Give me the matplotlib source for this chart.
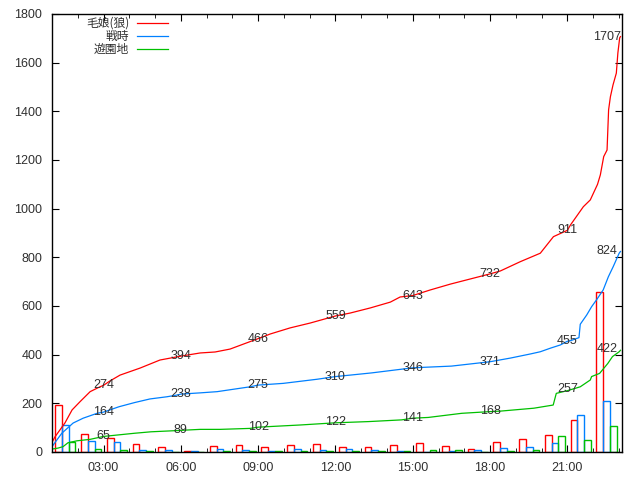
import numpy as np
import matplotlib
matplotlib.use('Agg')
import matplotlib.pyplot as plt
from matplotlib.ticker import MultipleLocator, FuncFormatter

plt.rcParams['font.family'] = ['Liberation Sans', 'Noto Sans CJK JP']

# series names
names = ['毛娘(狼)', '戦時', '遊園地']
colors = ['#ff0000', '#0080ff', '#00c000']

# cumulative counts (time in hours, value)
red_t = [1.0, 1.12, 1.5, 1.78, 2.09, 2.48, 2.86, 3.0, 3.25, 3.64, 4.42, 5.19, 6.0, 6.75, 7.33, 7.91,
         9.0, 9.47, 10.24, 11.02, 12.0, 12.57, 13.35, 14.13, 14.51, 15.0, 15.68, 16.46, 17.23, 18.0,
         18.4, 19.17, 19.95, 20.46, 21.0, 21.12, 21.62, 21.89, 22.17, 22.28, 22.41, 22.54, 22.6,
         22.67, 22.77, 22.9, 22.96, 23.03, 23.06]
red_v = [40, 63, 119, 173, 207, 248, 268, 274, 292, 316, 345, 378, 394, 407, 411, 423,
         466, 485, 510, 530, 559, 571, 592, 616, 637, 643, 666, 690, 711, 732,
         744, 782, 817, 885, 911, 933, 1008, 1036, 1100, 1139, 1214, 1241, 1406,
         1460, 1508, 1557, 1640, 1702, 1707]

blue_t = [1.0, 1.38, 1.82, 2.21, 2.75, 3.0, 3.6, 4.2, 4.8, 5.46, 5.85, 6.0, 6.75, 7.41, 8.69, 9.0,
          9.97, 11.29, 12.0, 12.57, 13.4, 15.0, 16.5, 18.0, 18.79, 19.57, 19.95, 20.35, 20.73, 21.0,
          21.14, 21.45, 21.5, 21.75, 21.94, 22.13, 22.39, 22.59, 22.78, 23.01, 23.06]
blue_v = [22, 77, 119, 139, 159, 164, 186, 203, 218, 227, 234, 238, 243, 248, 268, 275,
          282, 299, 310, 316, 325, 346, 353, 371, 386, 403, 412, 427, 440, 455,
          458, 470, 525, 563, 597, 625, 666, 720, 762, 817, 824]

green_t = [1.0, 1.23, 1.43, 1.62, 1.97, 2.48, 3.0, 4.2, 4.84, 5.85, 6.0, 6.75, 7.52, 8.69, 9.0,
           9.35, 10.63, 12.0, 13.29, 14.57, 15.0, 15.6, 16.9, 18.0, 18.4, 19.7, 20.45, 20.57, 21.0,
           21.5, 21.89, 21.94, 22.25, 22.57, 22.75, 23.01, 23.06]
green_v = [12, 16, 22, 38, 46, 52, 64, 77, 83, 88, 89, 93, 93, 97, 102,
           104, 111, 120, 125, 132, 139, 142, 159, 166, 168, 180, 193, 241, 252,
           268, 296, 310, 323, 364, 392, 412, 418]

# hourly counts
hours = np.arange(1, 23)
red_h = [193, 72, 56, 33, 20, 4, 24, 29, 22, 29, 33, 20, 20, 29, 38, 24, 12, 41, 52, 70, 131, 658]
blue_h = [111, 45, 43, 8, 8, 4, 12, 8, 5, 12, 8, 12, 8, 5, 1, 5, 8, 16, 20, 38, 152, 210]
green_h = [41, 11, 8, 4, 2, 1, 3, 3, 5, 3, 5, 3, 5, 3, 8, 8, 2, 5, 8, 66, 49, 107]

# labelled values
lab_t = [3, 6, 9, 12, 15, 18, 21, 22.55]
red_lab = [274, 394, 466, 559, 643, 732, 911, 1707]
blue_lab = [164, 238, 275, 310, 346, 371, 455, 824]
green_lab = [65, 89, 102, 122, 141, 168, 257, 422]

fig = plt.figure(figsize=(6.4, 4.8), dpi=100)
ax = fig.add_axes([52/640, 28/480, 570/640, 438/480])

w = 0.26
for k, (vals, c) in enumerate(zip([red_h, blue_h, green_h], colors)):
    ax.bar(hours + 0.13 + k*w, vals, width=w, align='edge', fill=False, edgecolor=c, linewidth=1.0)

for t, v, c, n in zip([red_t, blue_t, green_t], [red_v, blue_v, green_v], colors, names):
    ax.plot(t, v, color=c, lw=0.9, label=n)

for labs in [red_lab, blue_lab, green_lab]:
    for t, v in zip(lab_t, labs):
        ax.text(t, v, str(v), ha='center', va='center', fontsize=9, color='#303030')

ax.set_xlim(1.0, 23.12)
ax.set_ylim(0, 1800)
ax.xaxis.set_major_locator(MultipleLocator(3))
ax.xaxis.set_minor_locator(MultipleLocator(1))
ax.xaxis.set_major_formatter(FuncFormatter(lambda x, p: '%02d:00' % int(round(x))))
ax.yaxis.set_major_locator(MultipleLocator(200))
ax.tick_params(which='both', direction='in', top=True, right=True, labelsize=9, colors='black',
               labelcolor='#303030')
ax.tick_params(which='major', length=5, pad=7)
ax.tick_params(which='minor', length=3)
for s in ax.spines.values():
    s.set_linewidth(1.0)

leg = ax.legend(loc='upper left', bbox_to_anchor=(0.045, 1.012), frameon=False, markerfirst=False,
                handlelength=2.6, labelspacing=0.0, borderpad=0.2, handletextpad=0.7,
                prop={'family': ['Noto Sans CJK JP', 'DejaVu Sans'], 'size': 8.5})
for t in leg.get_texts():
    t.set_color('#303030')

fig.savefig('out.png', dpi=100)
